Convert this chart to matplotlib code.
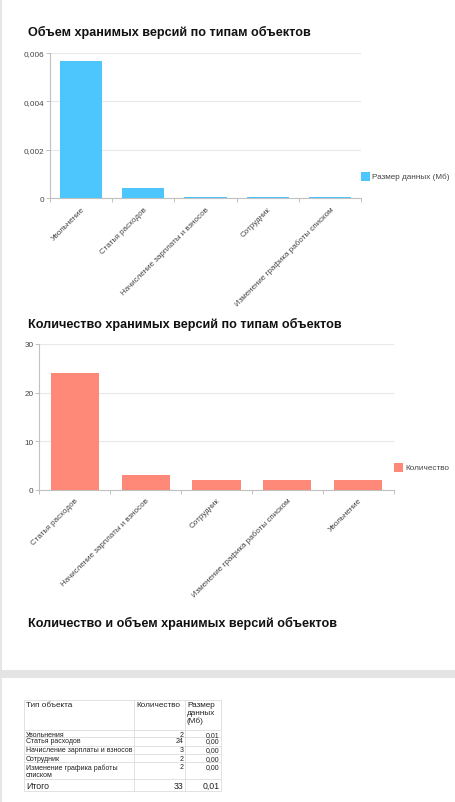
import matplotlib
matplotlib.use("Agg")
import matplotlib.pyplot as plt
from matplotlib.patches import Rectangle

plt.rcParams['font.family'] = ['Liberation Sans', 'DejaVu Sans']

# ---------------- data ----------------
size_categories = ["Увольнение", "Статья расходов", "Начисление зарплаты и взносов",
                   "Сотрудник", "Изменение графика работы списком"]
size_values = [0.00567, 0.00043, 0.00006, 0.00006, 0.00006]
size_ticks = [0, 0.002, 0.004, 0.006]
size_tick_labels = ["0", "0,002", "0,004", "0,006"]
size_legend = "Размер данных (Мб)"
title1 = "Объем хранимых версий по типам объектов"

count_categories = ["Статья расходов", "Начисление зарплаты и взносов", "Сотрудник",
                    "Изменение графика работы списком", "Увольнение"]
count_values = [24, 3, 2, 2, 2]
count_ticks = [0, 10, 20, 30]
count_tick_labels = ["0", "10", "20", "30"]
count_legend = "Количество"
title2 = "Количество хранимых версий по типам объектов"

title3 = "Количество и объем хранимых версий объектов"

table_header = ["Тип объекта", "Количество", "Размер\nданных\n(Мб)"]
table_types = ["Увольнения", "Статья расходов", "Начисление зарплаты и взносов",
               "Сотрудник", "Изменение графика работы\nсписком"]
table_counts = ["2", "24", "3", "2", "2"]
table_sizes = ["0,01", "0,00", "0,00", "0,00", "0,00"]
total_label = "Итого"
total_count = "33"
total_size = "0,01"

# ---------------- figure ----------------
W, H = 456, 803
fig = plt.figure(figsize=(W / 100, H / 100), dpi=100)
fig.patch.set_facecolor("white")

def fx(x):
    return x / W

def fy(y):
    return 1 - y / H

def rect(x0, y0, x1, y1, color):
    fig.patches.append(Rectangle((fx(x0), fy(y1)), fx(x1) - fx(x0), fy(y0) - fy(y1),
                                 transform=fig.transFigure, facecolor=color,
                                 edgecolor="none", zorder=0))

# page decorations
rect(0, 0, W, 1.2, "#e6e6e6")
rect(0, 0, 2, H, "#e6e6e6")
rect(0, 671, W, 679, "#e4e4e4")

GRID = "#e8e8e8"
AXC = "#c0c0c0"
TXT = "#444444"
TITLE_FS = 9.1

def bar_chart(left, top, right, bottom, cats, vals, ticks, tlabels, ymax, color,
              legend_label, leg_x, leg_y):
    ax = fig.add_axes([fx(left), fy(bottom), fx(right) - fx(left), fy(top) - fy(bottom)])
    n = len(cats)
    xs = list(range(n))
    ax.bar(xs, vals, width=0.68, color=color, zorder=3, label=legend_label)
    ax.set_xlim(-0.5, n - 0.5)
    ax.set_ylim(0, ymax)
    ax.set_yticks(ticks)
    ax.set_yticklabels(tlabels)
    for t in ticks[1:]:
        ax.axhline(t, color=GRID, lw=0.8, zorder=1)
    for s in ["top", "right"]:
        ax.spines[s].set_visible(False)
    for s in ["left", "bottom"]:
        ax.spines[s].set_color(AXC)
        ax.spines[s].set_linewidth(0.8)
    ax.tick_params(axis="y", length=3, width=0.7, color=AXC, labelsize=5.9,
                   labelcolor=TXT, pad=1.2)
    # category boundary ticks
    ax.set_xticks([i - 0.5 for i in range(n + 1)], minor=False)
    ax.set_xticklabels([""] * (n + 1))
    ax.tick_params(axis="x", which="major", length=3, width=0.7, color=AXC)
    ax.set_xticks(xs, minor=True)
    ax.set_xticklabels(cats, minor=True, rotation=45, ha="right",
                       rotation_mode="anchor", fontsize=5.8, color=TXT)
    ax.tick_params(axis="x", which="minor", length=0, pad=5)
    ax.set_facecolor("none")
    # legend
    fig.patches.append(Rectangle((fx(leg_x), fy(leg_y + 9)), fx(9), 9 / H,
                                 transform=fig.transFigure, facecolor=color,
                                 edgecolor="none"))
    fig.text(fx(leg_x + 11), fy(leg_y + 4.5), legend_label, fontsize=5.9,
             color=TXT, va="center", ha="left")
    return ax

fig.text(fx(28), fy(32), title1, fontsize=TITLE_FS, fontweight="bold", va="center",
         ha="left", color="#111111")
bar_chart(50, 54, 361, 199.3, size_categories, size_values, size_ticks,
          size_tick_labels, 0.006, "#4dc5fd", size_legend, 361, 173)

fig.text(fx(28), fy(324), title2, fontsize=TITLE_FS, fontweight="bold", va="center",
         ha="left", color="#111111")
bar_chart(39.3, 345, 393.7, 490.7, count_categories, count_values, count_ticks,
          count_tick_labels, 30, "#ff8978", count_legend, 394, 464)

fig.text(fx(28), fy(623), title3, fontsize=TITLE_FS, fontweight="bold", va="center",
         ha="left", color="#111111")

# ---------------- table ----------------
tl, tt, tr, tb = 24, 701, 221, 791.7
tax = fig.add_axes([fx(tl), fy(tb), fx(tr) - fx(tl), fy(tt) - fy(tb)])
tax.set_xlim(tl, tr)
tax.set_ylim(tb, tt)
tax.axis("off")
col_edges = [24, 134, 185, 221]
row_edges = [701, 731.3, 737.7, 746.7, 755.3, 763.3, 780, 791.7]
LC = "#e2e2e2"
for y in row_edges:
    tax.plot([tl, tr], [y, y], color=LC, lw=0.7, clip_on=False)
for x in col_edges:
    tax.plot([x, x], [tt, tb], color=LC, lw=0.7, clip_on=False)

TC = "#222222"
HFS, RFS, TFS = 5.9, 5.0, 6.3
tax.text(col_edges[0] + 2, tt + 1.2, table_header[0], fontsize=HFS, va="top", ha="left", color=TC)
tax.text(col_edges[1] + 2, tt + 1.2, table_header[1], fontsize=HFS, va="top", ha="left", color=TC)
tax.text(col_edges[2] + 2, tt + 1.2, table_header[2], fontsize=HFS, va="top", ha="left",
         color=TC, linespacing=1.1)
for i in range(len(table_types)):
    y0 = row_edges[i + 1]
    y1 = row_edges[i + 2]
    if "\n" in table_types[i]:
        tax.text(col_edges[0] + 2, (y0 + y1) / 2 + 0.2, table_types[i], fontsize=RFS,
                 va="center", ha="left", color=TC, linespacing=1.05)
    else:
        tax.text(col_edges[0] + 2, y0 + 5.6, table_types[i], fontsize=RFS,
                 va="baseline", ha="left", color=TC)
    ynum = y0 + 5.6
    tax.text(col_edges[2] - 1.5, ynum, table_counts[i], fontsize=RFS, va="baseline",
             ha="right", color=TC)
    tax.text(col_edges[3] - 1.5, ynum, table_sizes[i], fontsize=RFS, va="baseline",
             ha="right", color=TC)
yb = row_edges[6] + 8.8
tax.text(col_edges[0] + 2, yb, total_label, fontsize=TFS, va="baseline", ha="left", color=TC)
tax.text(col_edges[2] - 1.5, yb, total_count, fontsize=TFS, va="baseline", ha="right", color=TC)
tax.text(col_edges[3] - 1.5, yb, total_size, fontsize=TFS, va="baseline", ha="right", color=TC)

fig.savefig("out.png", dpi=100, facecolor="white")
